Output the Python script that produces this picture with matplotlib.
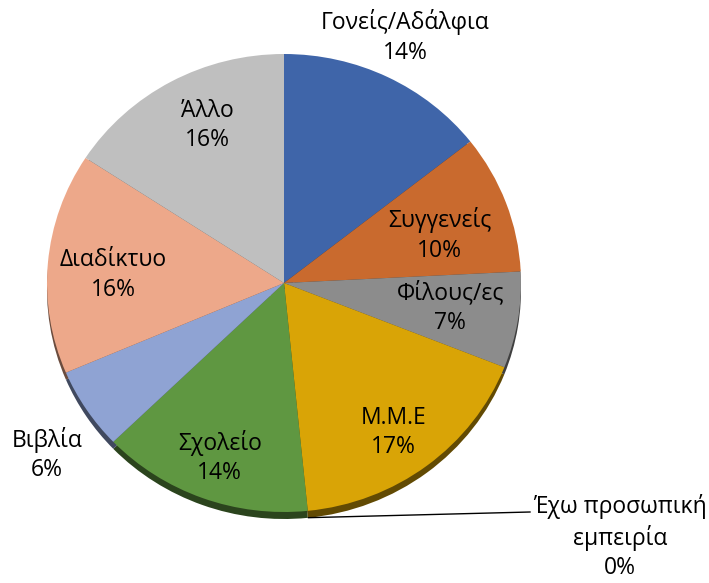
import numpy as np
import matplotlib.pyplot as plt

labels = ['Γονείς/Αδάλφια', 'Συγγενείς', 'Φίλους/ες', 'Μ.Μ.Ε', 'Έχω προσωπική\nεμπειρία',
          'Σχολείο', 'Βιβλία', 'Διαδίκτυο', 'Άλλο']
values = [14.4, 9.8, 6.8, 17.4, 0.0, 14.4, 5.8, 15.6, 15.8]
colors = ['#3F65A9', '#C96A2E', '#8C8C8C', '#D9A406', '#4F8BC9',
          '#5F9741', '#8FA3D3', '#EDA88A', '#BFBFBF']

# label placement: (angle offset from wedge middle in degrees, distance in radii)
label_pos = [(0.5, 1.19), (-2.8, 0.69), (0.6, 0.71), (-1.9, 0.80), None,
             (0.6, 0.81), (3.4, 1.25), (2.2, 0.72), (-3.2, 0.76)]

plt.rcParams['font.family'] = ['Open Sans', 'DejaVu Sans']

W, H = 709, 583
fig = plt.figure(figsize=(W / 100, H / 100), dpi=100)
ax = fig.add_axes([0, 0, 1, 1])

# pie centre and radii in pixels (slightly squashed, like the 3D original)
cx, cy, rx, ry = 284, 283, 237, 229

def shade(c, f=0.45):
    r, g, b = plt.matplotlib.colors.to_rgb(c)
    return (r * f, g * f, b * f)

# dark rim underneath
ax.pie(values, colors=[shade(c) for c in colors], startangle=90, counterclock=False,
       center=(0, -7 / ry), wedgeprops=dict(linewidth=0))
wedges, _ = ax.pie(values, colors=colors, startangle=90, counterclock=False,
                   wedgeprops=dict(linewidth=0))

fs = 16.5
total = sum(values)
for w, lab, v, pos in zip(wedges, labels, values, label_pos):
    pct = '%.0f%%' % (100 * v / total)
    mid = 0.5 * (w.theta1 + w.theta2)
    if pos is None:
        # zero slice: label outside with a leader line
        a = np.radians(mid)
        x0, y0 = 1.03 * np.cos(a), 1.03 * np.sin(a)
        ax.plot([x0, 1.038], [y0, -1.0], color='black', lw=1)
        ax.text(1.418, -1.109, lab + '\n' + pct, ha='center', va='center',
                fontsize=fs, linespacing=1.3)
        continue
    a = np.radians(mid + pos[0])
    ax.text(pos[1] * np.cos(a), pos[1] * np.sin(a), lab + '\n' + pct,
            ha='center', va='center', fontsize=fs, linespacing=1.3)

ax.set_aspect('auto')
ax.set_xlim(-cx / rx, (W - cx) / rx)
ax.set_ylim(-(H - cy) / ry, cy / ry)
ax.axis('off')

fig.savefig('out.png', dpi=100)
